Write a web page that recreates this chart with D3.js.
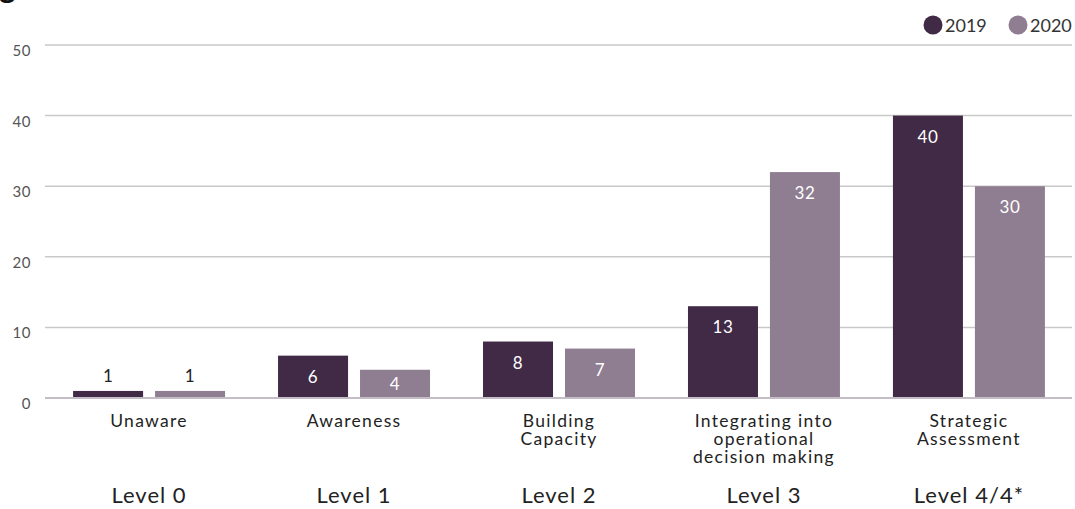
<!DOCTYPE html>
<html>
<head>
<meta charset="utf-8">
<script src="https://cdn.jsdelivr.net/npm/d3@7"></script>
<style>
  body { margin: 0; background: #fff; }
  svg { display: block; font-family: Lato, "Noto Sans", sans-serif; }
</style>
</head>
<body>
<div id="chart"></div>
<script>
var width = 1075,
    height = 509;

// datos
var categories = ["Unaware", "Awareness", "Building Capacity", "Integrating into operational decision making", "Strategic Assessment"];
var labelLines = [["Unaware"], ["Awareness"], ["Building", "Capacity"], ["Integrating into", "operational", "decision making"], ["Strategic", "Assessment"]];
var levels = ["Level 0", "Level 1", "Level 2", "Level 3", "Level 4/4*"];
var series = ["2019", "2020"];
var values2019 = [1, 6, 8, 13, 40];
var values2020 = [1, 4, 7, 32, 30];
var yTicks = [0, 10, 20, 30, 40, 50];

var colors = { "2019": "#412a46", "2020": "#8f7e91" };

var rows = categories.map((c, i) => ({ cat: c, vals: [
  { s: "2019", v: values2019[i] },
  { s: "2020", v: values2020[i] }
]}));

var svg = d3.select("#chart").append("svg")
    .attr("width", width)
    .attr("height", height);

// trozo del titulo cortado arriba
svg.append("text")
    .attr("x", -1)
    .attr("y", -2)
    .attr("font-size", 32)
    .attr("font-weight", "bold")
    .attr("fill", "#111")
    .text("g");

var y = d3.scaleLinear().domain([0, 50]).range([398, 45]);

var x0 = d3.scaleBand()
    .domain(categories)
    .range([45, 1073])
    .paddingInner(0.2585)
    .paddingOuter(0.137);

var x1 = d3.scaleBand()
    .domain(series)
    .range([0, x0.bandwidth()])
    .paddingInner(0.146);

// lineas de la grilla
svg.append("g").selectAll("line")
    .data(yTicks.filter(t => t > 0))
    .enter().append("line")
    .attr("x1", 45).attr("x2", 1072)
    .attr("y1", d => y(d)).attr("y2", d => y(d))
    .attr("stroke", "#c9c9c9")
    .attr("stroke-width", 1.5);

svg.append("g").selectAll("text")
    .data(yTicks)
    .enter().append("text")
    .attr("x", 31)
    .attr("y", d => y(d) + 11)
    .attr("text-anchor", "end")
    .attr("font-size", 15)
    .attr("letter-spacing", 0.5)
    .attr("fill", "#555")
    .text(d => d);

var groups = svg.append("g").selectAll("g")
    .data(rows)
    .enter().append("g")
    .attr("transform", d => "translate(" + x0(d.cat) + ",0)");

groups.selectAll("rect")
    .data(d => d.vals)
    .enter().append("rect")
    .attr("x", d => x1(d.s))
    .attr("width", x1.bandwidth())
    .attr("y", d => y(d.v))
    .attr("height", d => y(0) - y(d.v))
    .attr("fill", d => colors[d.s]);

// etiqueta encima si la barra es muy baja, si no dentro
groups.selectAll("text.val")
    .data(d => d.vals)
    .enter().append("text")
    .attr("class", "val")
    .attr("x", d => x1(d.s) + x1.bandwidth() / 2)
    .attr("y", d => d.v < 3 ? y(d.v) - 9 : Math.min(y(d.v) + 27, (y(d.v) + y(0)) / 2 + 6))
    .attr("text-anchor", "middle")
    .attr("font-size", 17)
    .attr("letter-spacing", 0.5)
    .attr("fill", d => d.v < 3 ? "#222" : "#fff")
    .text(d => d.v);

// eje base
svg.append("line")
    .attr("x1", 45).attr("x2", 1072)
    .attr("y1", y(0)).attr("y2", y(0))
    .attr("stroke", "#c4bcc6")
    .attr("stroke-width", 2);

// etiquetas de categoria
var labels = svg.append("g").selectAll("text.cat")
    .data(categories)
    .enter().append("text")
    .attr("class", "cat")
    .attr("text-anchor", "middle")
    .attr("font-size", 17.5)
    .attr("letter-spacing", 1.3)
    .attr("fill", "#222");

labels.selectAll("tspan")
    .data((d, i) => labelLines[i].map(l => ({ l: l, c: d })))
    .enter().append("tspan")
    .attr("x", d => x0(d.c) + x0.bandwidth() / 2)
    .attr("y", (d, i) => 427 + i * 18)
    .text(d => d.l);

svg.append("g").selectAll("text.lvl")
    .data(levels)
    .enter().append("text")
    .attr("class", "lvl")
    .attr("x", (d, i) => x0(categories[i]) + x0.bandwidth() / 2)
    .attr("y", 503)
    .attr("text-anchor", "middle")
    .attr("font-size", 22)
    .attr("letter-spacing", 1)
    .attr("fill", "#222")
    .text(d => d);

// leyenda
var legend = svg.append("g").selectAll("g")
    .data(series)
    .enter().append("g")
    .attr("transform", (d, i) => "translate(" + (933 + i * 85) + ",25)");

legend.append("circle")
    .attr("r", 9.5)
    .attr("fill", d => colors[d]);

legend.append("text")
    .attr("x", 12)
    .attr("y", 6.5)
    .attr("font-size", 18)
    .attr("fill", "#333")
    .text(d => d);
</script>
</body>
</html>
